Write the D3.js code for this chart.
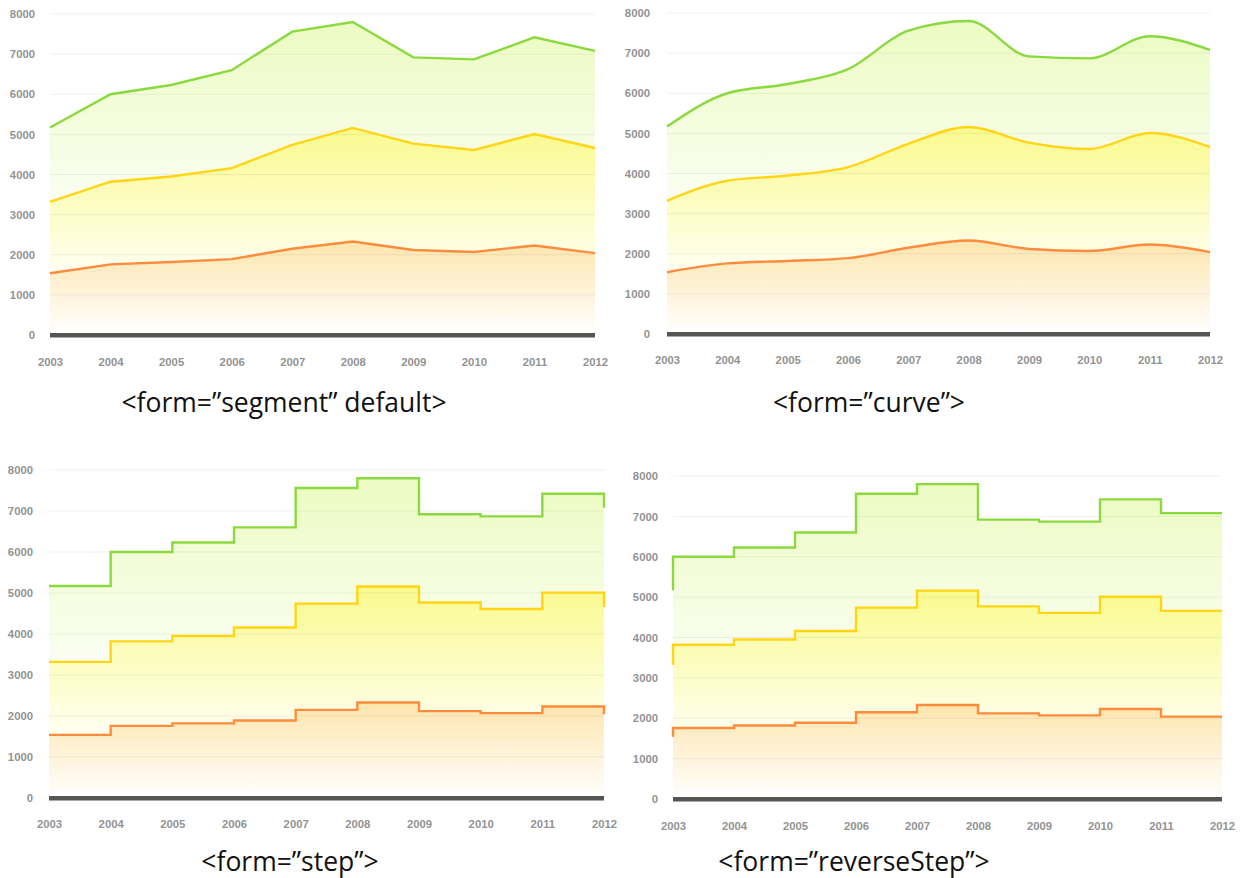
<!DOCTYPE html>
<html>
<head>
<meta charset="utf-8">
<script src="https://cdn.jsdelivr.net/npm/d3@7/dist/d3.min.js"></script>
<style>
  html, body { margin: 0; padding: 0; background: #ffffff; }
  svg { display: block; }
  .tick text { font-family: "Liberation Sans", Arial, sans-serif; font-size: 11.3px; font-weight: bold; fill: #939393; }
  .caption { font-family: "Open Sans", "Noto Sans", sans-serif; font-size: 26.5px; fill: #111111; }
</style>
</head>
<body>
<svg id="chart" width="1240" height="878"></svg>
<script>
// Category axis
const years = ["2003", "2004", "2005", "2006", "2007", "2008", "2009", "2010", "2011", "2012"];

// Three series, drawn back to front
const topSeries    = [5170, 6000, 6230, 6600, 7560, 7800, 6920, 6870, 7420, 7080];
const middleSeries = [3320, 3820, 3950, 4160, 4740, 5160, 4770, 4610, 5010, 4660];
const bottomSeries = [1540, 1760, 1820, 1890, 2150, 2330, 2120, 2070, 2230, 2040];

// Value axis
const yTicks = [0, 1000, 2000, 3000, 4000, 5000, 6000, 7000, 8000];
const yMax = 8000;

// Panel captions, one per line form
const captions = ["<form=\u201Dsegment\u201D default>", "<form=\u201Dcurve\u201D>", "<form=\u201Dstep\u201D>", "<form=\u201DreverseStep\u201D>"];
const curves = [d3.curveLinear, d3.curveMonotoneX, d3.curveStepAfter, d3.curveStepBefore];

// Panel geometry
const panels = [
  { x0: 50,  x1: 595,  top: 14,  base: 335, yPad: 15, xPad: 23, capX: 284, capY: 412 },
  { x0: 667, x1: 1210, top: 13,  base: 334, yPad: 17, xPad: 22, capX: 869, capY: 412 },
  { x0: 49,  x1: 604,  top: 470, base: 798, yPad: 16, xPad: 22, capX: 290, capY: 871 },
  { x0: 673, x1: 1222, top: 476, base: 799, yPad: 15, xPad: 23, capX: 854, capY: 871 }
];

// Series styles: line colour and fill gradient (top colour, bottom colour)
const styles = [
  { values: topSeries,    line: "#8ad93f", fillTop: "#ecfbc2", fillBottom: "#fbfef2", lower: middleSeries },
  { values: middleSeries, line: "#ffd514", fillTop: "#fafa8e", fillBottom: "#fffff2", lower: bottomSeries },
  { values: bottomSeries, line: "#ff8c3c", fillTop: "#fde5ad", fillBottom: "#ffffff", lower: null }
];

const svg = d3.select("#chart");
svg.append("rect").attr("width", 1240).attr("height", 878).attr("fill", "#ffffff");
const defs = svg.append("defs");

panels.forEach((p, pi) => {
  const x = d3.scalePoint().domain(years).range([p.x0, p.x1]);
  const y = d3.scaleLinear().domain([0, yMax]).range([p.base, p.top]);
  const g = svg.append("g");

  // area layers, each drawn down to zero
  styles.forEach((s, si) => {
    const id = `grad-${pi}-${si}`;
    const hi = d3.max(s.values);
    const lo = s.lower ? d3.min(s.lower) : 0;
    const grad = defs.append("linearGradient")
      .attr("id", id)
      .attr("gradientUnits", "userSpaceOnUse")
      .attr("x1", 0).attr("x2", 0)
      .attr("y1", y(hi)).attr("y2", y(lo));
    grad.append("stop").attr("offset", 0).attr("stop-color", s.fillTop);
    grad.append("stop").attr("offset", 1).attr("stop-color", s.fillBottom);

    const area = d3.area()
      .x((d, i) => x(years[i]))
      .y0(y(0))
      .y1(d => y(d))
      .curve(curves[pi]);
    g.append("path").datum(s.values).attr("d", area).attr("fill", `url(#${id})`);
  });

  // horizontal grid lines
  g.append("g").selectAll("line")
    .data(yTicks.filter(t => t > 0))
    .join("line")
    .attr("x1", p.x0).attr("x2", p.x1)
    .attr("y1", d => y(d)).attr("y2", d => y(d))
    .attr("stroke", "rgba(0,0,0,0.06)")
    .attr("stroke-width", 1);

  // series lines
  styles.forEach(s => {
    const line = d3.line()
      .x((d, i) => x(years[i]))
      .y(d => y(d))
      .curve(curves[pi]);
    g.append("path").datum(s.values).attr("d", line)
      .attr("fill", "none")
      .attr("stroke", s.line)
      .attr("stroke-width", 2.4)
      .attr("stroke-linejoin", "miter");
  });

  // zero baseline bar
  g.append("rect")
    .attr("x", p.x0).attr("width", p.x1 - p.x0)
    .attr("y", y(0) - 2).attr("height", 4.5)
    .attr("fill", "#555555");

  // value axis
  const yAxis = d3.axisLeft(y).tickValues(yTicks).tickSize(0).tickPadding(p.yPad).tickFormat(d3.format("d"));
  g.append("g").attr("transform", `translate(${p.x0},0)`).call(yAxis)
    .call(a => a.select(".domain").remove());

  // category axis
  const xAxis = d3.axisBottom(x).tickSize(0).tickPadding(p.xPad);
  g.append("g").attr("transform", `translate(0,${p.base})`).call(xAxis)
    .call(a => a.select(".domain").remove());

  // caption
  svg.append("text").attr("class", "caption")
    .attr("x", p.capX).attr("y", p.capY)
    .attr("text-anchor", "middle")
    .text(captions[pi]);
});
</script>
</body>
</html>
